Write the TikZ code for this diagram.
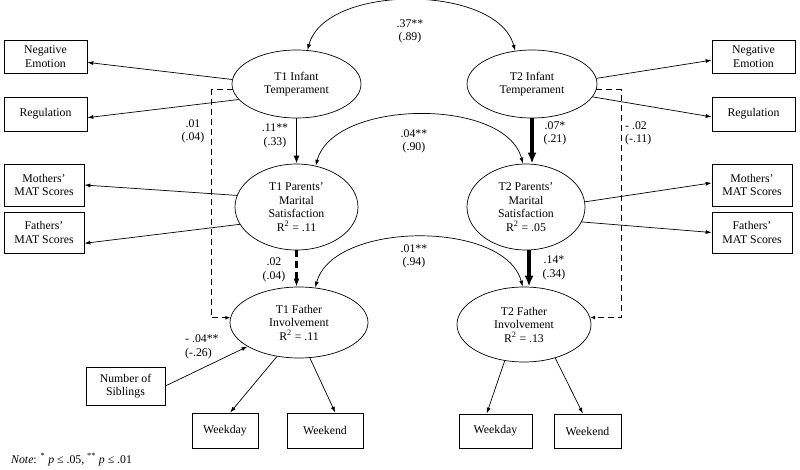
\documentclass[tikz,border=0pt]{standalone}
\usepackage{fontspec}
\setmainfont{Liberation Serif}
\usetikzlibrary{shapes.geometric,arrows.meta}
\begin{document}
\begin{tikzpicture}[x=1pt,y=1pt,font=\fontsize{11.8}{13.5}\selectfont,
    box/.style 2 args={draw,rectangle,line width=0.7pt,align=center,inner sep=0pt,minimum width=#1,minimum height=#2},
    latent/.style 2 args={draw,ellipse,line width=0.7pt,align=center,inner sep=0pt,minimum width=#1,minimum height=#2},
    est/.style={align=center,inner sep=0pt},
    path/.style={-{Latex[length=6pt,width=4pt]},line width=0.7pt},
    corr/.style={{Latex[length=6pt,width=4pt]}-{Latex[length=6pt,width=4pt]},line width=0.7pt},
    bigpath/.style={-{Latex[length=11pt,width=9pt]},line width=3.5pt},
    dpath/.style={-{Latex[length=5pt,width=4pt]},line width=1.4pt,dash pattern=on 6pt off 4pt}]
  \useasboundingbox (0,0) rectangle (800,-469);
  % latent variables
  \node[latent={129}{68}] (t1temp) at (296.5,-84) {T1 Infant\\Temperament};
  \node[latent={130}{68}] (t2temp) at (532,-84) {T2 Infant\\Temperament};
  \node[latent={123}{86}] (t1mar) at (296.5,-207) {T1 Parents’\\Marital\\Satisfaction\\R\textsuperscript{2} = .11};
  \node[latent={118}{86}] (t2mar) at (526,-207) {T2 Parents’\\Marital\\Satisfaction\\R\textsuperscript{2} = .05};
  \node[latent={138}{71}] (t1fi) at (299,-322.5) {T1 Father\\Involvement\\R\textsuperscript{2} = .11};
  \node[latent={134}{75}] (t2fi) at (524,-324.5) {T2 Father\\Involvement\\R\textsuperscript{2} = .13};
  % indicators
  \node[box={83}{33}] (neg1) at (45.5,-56.5) {Negative\\Emotion};
  \node[box={83}{34}] (reg1) at (45.5,-114) {Regulation};
  \node[box={80}{42}] (moth1) at (44,-185) {Mothers’\\MAT Scores};
  \node[box={80}{41}] (fath1) at (44,-232.5) {Fathers’\\MAT Scores};
  \node[box={83}{33}] (neg2) at (753.5,-56.5) {Negative\\Emotion};
  \node[box={83}{34}] (reg2) at (753.5,-114) {Regulation};
  \node[box={80}{42}] (moth2) at (752,-185) {Mothers’\\MAT Scores};
  \node[box={80}{41}] (fath2) at (752,-232.5) {Fathers’\\MAT Scores};
  \node[box={79}{38}] (sib) at (125.5,-386) {Number of\\Siblings};
  \node[box={66}{35}] (wd1) at (225,-430.5) {Weekday};
  \node[box={76}{35}] (we1) at (325,-430.5) {Weekend};
  \node[box={73}{34}] (wd2) at (495.5,-431) {Weekday};
  \node[box={67}{34}] (we2) at (587.5,-431) {Weekend};
  % loadings
  \draw[path] (t1temp.176) -- (neg1.-8);
  \draw[path] (t1temp.195) -- (reg1.-5);
  \draw[path] (t1mar.169) -- (moth1.east);
  \draw[path] (t1mar.197) -- (fath1.-15);
  \draw[path] (t2temp.5) -- (neg2.185);
  \draw[path] (t2temp.-12) -- (reg2.184);
  \draw[path] (t2mar.5) -- (moth2.177);
  \draw[path] (t2mar.-15) -- (fath2.west);
  \draw[path] (t1fi.237) -- (wd1.74);
  \draw[path] (t1fi.-73) -- (we1.60);
  \draw[path] (t2fi.242) -- (wd2.117);
  \draw[path] (t2fi.-47) -- (we2.105);
  % structural paths
  \draw[path,line width=1.4pt,-{Latex[length=8pt,width=6pt]}] (t1temp.south) -- (t1mar.north);
  \draw[bigpath] (t2temp.south) -- (t2temp.south |- t2mar.north);
  \draw[dpath,line width=2.4pt,dash pattern=on 7pt off 4pt,-{Latex[length=8pt,width=6pt]}] (t1mar.south) -- (t1mar.south |- t1fi.north);
  \draw[bigpath] (t2mar.-86) -- (t2mar.-86 |- t2fi.north);
  \draw[dpath] (t1temp.185) -- ++(-21,0) |- (t1fi.176);
  \draw[dpath] (t2temp.-5) -- ++(25,0) |- (t2fi.6);
  \draw[path] (sib.east) -- (t1fi.205);
  % stability correlations
  \draw[corr] (t1temp.72) to[out=75,in=105,looseness=0.85] (t2temp.117);
  \draw[corr] (t1mar.65) to[out=75,in=105,looseness=0.85] (t2mar.94);
  \draw[corr] (t1fi.65) to[out=75,in=105,looseness=0.85] (t2fi.92);
  % estimates
  \node[est] (e1) at (410,-31.5) {.37**\\(.89)};
  \node[est] (e2) at (414,-141.5) {.04**\\(.90)};
  \node[est] (e3) at (414,-256.5) {.01**\\(.94)};
  \node[est] (e4) at (193,-131.5) {.01\\(.04)};
  \node[est] (e5) at (275,-136) {.11**\\(.33)};
  \node[est] (e6) at (555,-133.5) {.07*\\(.21)};
  \node[est,anchor=west,align=left] (e7) at (625,-133.5) {- .02\\(-.11)};
  \node[est] (e8) at (274,-270) {.02\\(.04)};
  \node[est] (e9) at (554,-268) {.14*\\(.34)};
  \node[est,anchor=west,align=left] (e10) at (185,-347) {- .04**\\(-.26)};
  \node[anchor=base west,inner sep=0pt] (note) at (11,-463) {\textit{Note}: \textsuperscript{*} \textit{p} ≤ .05, \textsuperscript{**} \textit{p} ≤ .01};
\end{tikzpicture}
\end{document}
